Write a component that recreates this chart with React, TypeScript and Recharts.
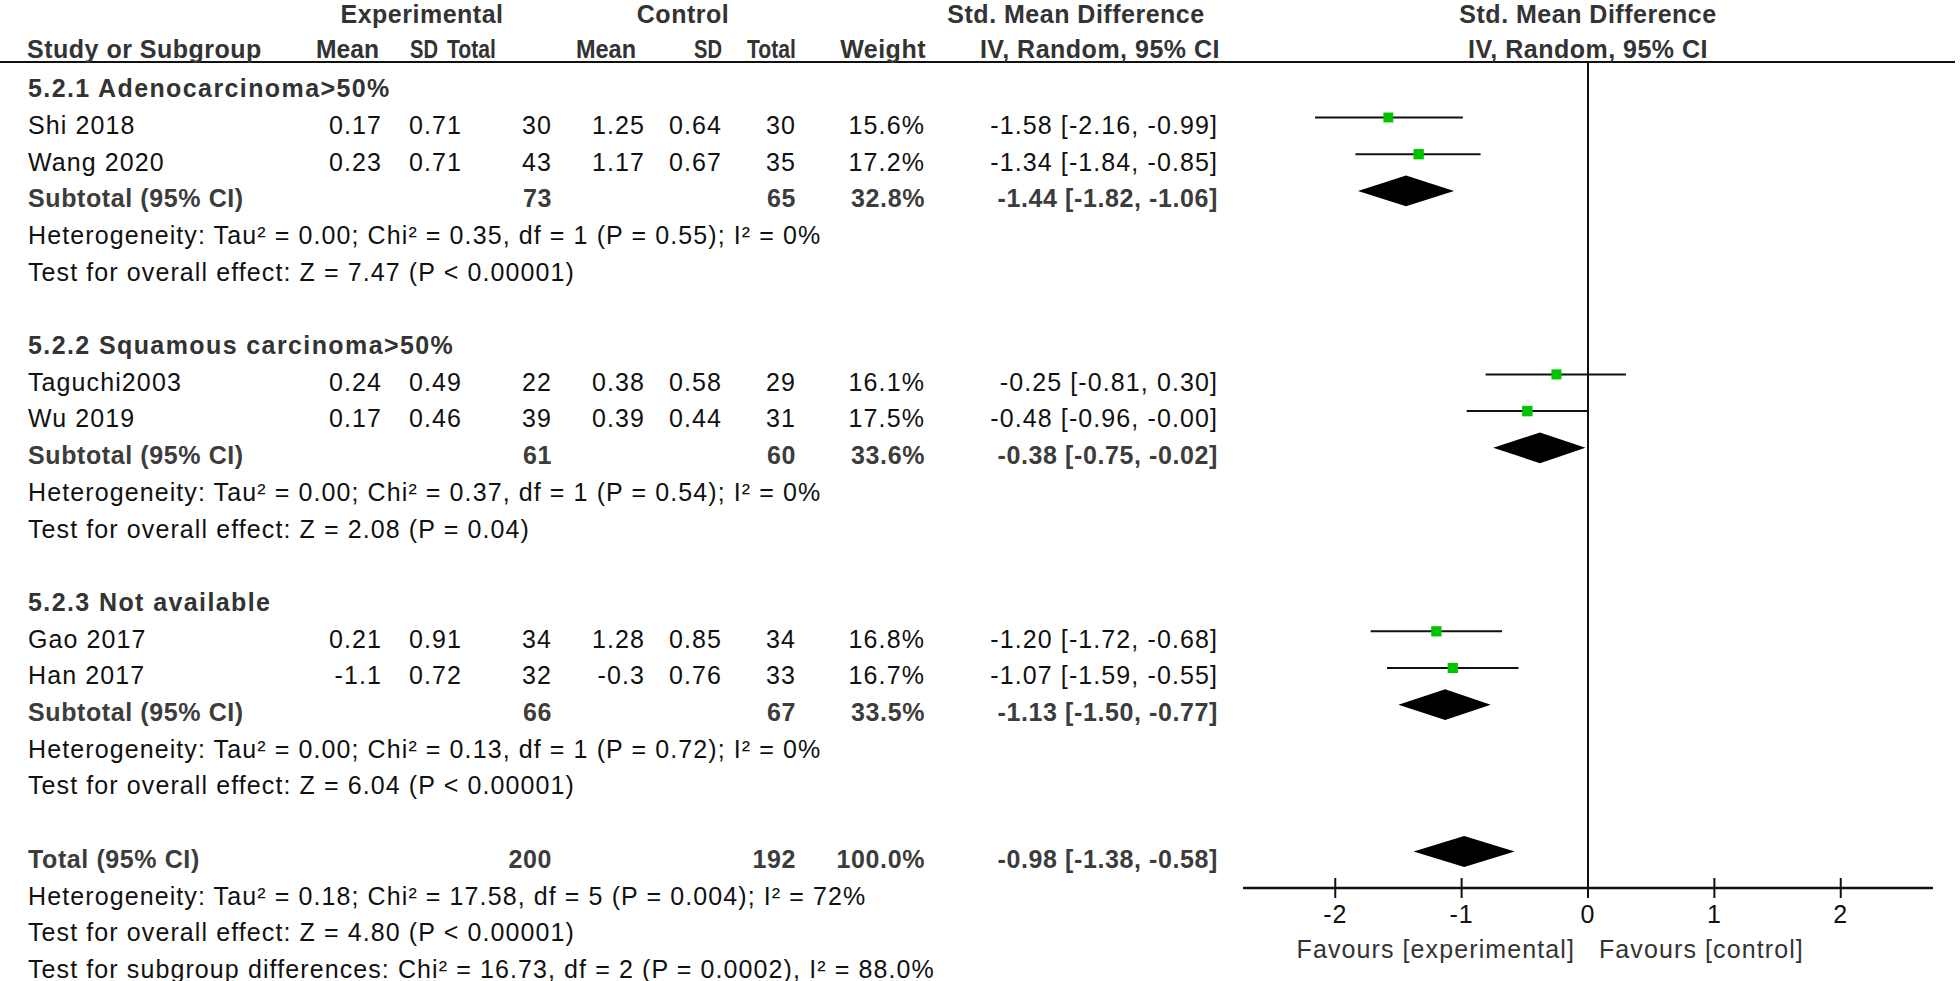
import React from "react";
import {
  Area,
  ComposedChart,
  ErrorBar,
  ReferenceLine,
  Scatter,
  XAxis,
  YAxis,
} from "recharts";

// study level data
const studyNames = ["Shi 2018", "Wang 2020", "Taguchi2003", "Wu 2019", "Gao 2017", "Han 2017"];
const expMean = ["0.17", "0.23", "0.24", "0.17", "0.21", "-1.1"];
const expSD = ["0.71", "0.71", "0.49", "0.46", "0.91", "0.72"];
const expTotal = [30, 43, 22, 39, 34, 32];
const ctrlMean = ["1.25", "1.17", "0.38", "0.39", "1.28", "-0.3"];
const ctrlSD = ["0.64", "0.67", "0.58", "0.44", "0.85", "0.76"];
const ctrlTotal = [30, 35, 29, 31, 34, 33];
const weights = [15.6, 17.2, 16.1, 17.5, 16.8, 16.7];
const smd = [-1.58, -1.34, -0.25, -0.48, -1.2, -1.07];
const lower = [-2.16, -1.84, -0.81, -0.96, -1.72, -1.59];
const upper = [-0.99, -0.85, 0.3, -0.004, -0.68, -0.55];
const studyRows = [1, 2, 8, 9, 15, 16];

// subgroups
const groupNames = ["5.2.1 Adenocarcinoma>50%", "5.2.2 Squamous carcinoma>50%", "5.2.3 Not available"];
const groupRows = [0, 7, 14];
const groupExpTotal = [73, 61, 66];
const groupCtrlTotal = [65, 60, 67];
const groupWeight = [32.8, 33.6, 33.5];
const groupSmd = [-1.44, -0.38, -1.13];
const groupLower = [-1.82, -0.75, -1.5];
const groupUpper = [-1.06, -0.02, -0.77];
const groupHet = [
  "Heterogeneity: Tau² = 0.00; Chi² = 0.35, df = 1 (P = 0.55); I² = 0%",
  "Heterogeneity: Tau² = 0.00; Chi² = 0.37, df = 1 (P = 0.54); I² = 0%",
  "Heterogeneity: Tau² = 0.00; Chi² = 0.13, df = 1 (P = 0.72); I² = 0%",
];
const groupTest = [
  "Test for overall effect: Z = 7.47 (P < 0.00001)",
  "Test for overall effect: Z = 2.08 (P = 0.04)",
  "Test for overall effect: Z = 6.04 (P < 0.00001)",
];

// overall
const totalRow = 21;
const totalExp = 200;
const totalCtrl = 192;
const totalWeight = 100.0;
const totalSmd = -0.98;
const totalLower = -1.38;
const totalUpper = -0.58;
const totalNotes = [
  "Heterogeneity: Tau² = 0.18; Chi² = 17.58, df = 5 (P = 0.004); I² = 72%",
  "Test for overall effect: Z = 4.80 (P < 0.00001)",
  "Test for subgroup differences: Chi² = 16.73, df = 2 (P = 0.0002), I² = 88.0%",
];

const xTicks = [-2, -1, 0, 1, 2];

// layout
const W = 1960;
const H = 981;
const PLOT_TOP = 62;
const PLOT_BOTTOM = 888;
const PLOT_LEFT = 1243;
const PLOT_RIGHT = 1933;
const ROW_H = 36.7;
const ROW0 = 80.8;
const Y_DOMAIN: [number, number] = [(PLOT_TOP - ROW0) / ROW_H, (PLOT_BOTTOM - ROW0) / ROW_H];
const X_DOMAIN: [number, number] = [-2.73, 2.73];
const DIAMOND_H = 0.42;
const AXIS_H = 60;

const rowBase = (r: number) => ROW0 + r * ROW_H + 16.3;
const f2 = (v: number) => v.toFixed(2);
const ciText = (e: number, l: number, u: number) => `${f2(e)} [${f2(l)}, ${f2(u)}]`;

const studyPoints = studyNames.map((n, i) => ({
  name: n,
  x: smd[i],
  row: studyRows[i],
  w: weights[i],
  err: [smd[i] - lower[i], upper[i] - smd[i]],
}));

const diamond = (est: number, lo: number, hi: number, r: number) => [
  { x: lo, band: [r, r] },
  { x: est, band: [r - DIAMOND_H, r + DIAMOND_H] },
  { x: hi, band: [r, r] },
];

const diamonds = [
  ...groupSmd.map((e, g) => diamond(e, groupLower[g], groupUpper[g], groupRows[g] + 3)),
  diamond(totalSmd, totalLower, totalUpper, totalRow),
];

const FONT = "'Liberation Sans', Arial, sans-serif";
const COL = {
  name: 28,
  expMean: 382,
  expSD: 462,
  expTotal: 552,
  ctrlMean: 645,
  ctrlSD: 722,
  ctrlTotal: 796,
  weight: 925,
  ci: 1218,
};

const Square = (props: any) => {
  const { cx, cy, payload } = props;
  const s = 2.5 * Math.sqrt(payload.w);
  return <rect x={cx - s / 2} y={cy - s / 2} width={s} height={s} fill="#00c400" />;
};

const Tick = (props: any) => {
  const { x, y, payload } = props;
  return (
    <g>
      <line x1={x} x2={x} y1={y - 22} y2={y - 12} stroke="#111" strokeWidth={2} />
      <text x={x} y={y + 23} textAnchor="middle" fontSize={25} fontFamily={FONT} fill="#111" letterSpacing={1}>
        {payload.value}
      </text>
    </g>
  );
};

function Table() {
  const reg = { fontSize: 25, fontFamily: FONT, fill: "#111", letterSpacing: 1.1 } as const;
  const bold = { fontSize: 25, fontFamily: FONT, fill: "#3c3c3c", fontWeight: 700, letterSpacing: 0.6 } as const;
  const head = { fontSize: 25, fontFamily: FONT, fill: "#333", fontWeight: 700, letterSpacing: 0.5 } as const;
  const grp = { ...head, letterSpacing: 1.4 };
  const end = (x: number, y: number, t: any, st: any, k: string, len?: number) => (
    <text
      key={k}
      x={x}
      y={y}
      textAnchor="end"
      {...st}
      {...(len ? { textLength: len, lengthAdjust: "spacingAndGlyphs", letterSpacing: 0 } : {})}
    >
      {t}
    </text>
  );
  const start = (x: number, y: number, t: any, st: any, k: string) => (
    <text key={k} x={x} y={y} {...st}>
      {t}
    </text>
  );
  const out: any[] = [];

  // headers
  out.push(<text key="h-exp" x={422} y={23} textAnchor="middle" {...head}>Experimental</text>);
  out.push(<text key="h-ctl" x={683} y={23} textAnchor="middle" {...head}>Control</text>);
  out.push(<text key="h-smd" x={1076} y={23} textAnchor="middle" {...head}>Std. Mean Difference</text>);
  out.push(<text key="h-smd2" x={1588} y={23} textAnchor="middle" {...head}>Std. Mean Difference</text>);
  out.push(start(27, 58, "Study or Subgroup", head, "h2-0"));
  out.push(end(379, 58, "Mean", head, "h2-1", 63));
  out.push(end(438, 58, "SD", head, "h2-2", 28));
  out.push(end(496, 58, "Total", head, "h2-3", 49));
  out.push(end(636, 58, "Mean", head, "h2-4", 60));
  out.push(end(722, 58, "SD", head, "h2-5", 28));
  out.push(end(796, 58, "Total", head, "h2-6", 49));
  out.push(end(926, 58, "Weight", head, "h2-7"));
  out.push(end(1220, 58, "IV, Random, 95% CI", head, "h2-8"));
  out.push(<text key="h2-9" x={1588} y={58} textAnchor="middle" {...head}>IV, Random, 95% CI</text>);

  groupNames.forEach((g, gi) => {
    const r0 = groupRows[gi];
    out.push(start(COL.name, rowBase(r0), g, grp, `g${gi}`));
    const sub = r0 + 3;
    out.push(start(COL.name, rowBase(sub), "Subtotal (95% CI)", bold, `s${gi}-n`));
    out.push(end(COL.expTotal, rowBase(sub), groupExpTotal[gi], bold, `s${gi}-e`));
    out.push(end(COL.ctrlTotal, rowBase(sub), groupCtrlTotal[gi], bold, `s${gi}-c`));
    out.push(end(COL.weight, rowBase(sub), `${groupWeight[gi].toFixed(1)}%`, bold, `s${gi}-w`));
    out.push(end(COL.ci, rowBase(sub), ciText(groupSmd[gi], groupLower[gi], groupUpper[gi]), bold, `s${gi}-ci`));
    out.push(start(COL.name, rowBase(sub + 1), groupHet[gi], reg, `s${gi}-h`));
    out.push(start(COL.name, rowBase(sub + 2), groupTest[gi], reg, `s${gi}-t`));
  });

  studyNames.forEach((n, i) => {
    const y = rowBase(studyRows[i]);
    out.push(start(COL.name, y, n, reg, `r${i}-n`));
    out.push(end(COL.expMean, y, expMean[i], reg, `r${i}-1`));
    out.push(end(COL.expSD, y, expSD[i], reg, `r${i}-2`));
    out.push(end(COL.expTotal, y, expTotal[i], reg, `r${i}-3`));
    out.push(end(COL.ctrlMean, y, ctrlMean[i], reg, `r${i}-4`));
    out.push(end(COL.ctrlSD, y, ctrlSD[i], reg, `r${i}-5`));
    out.push(end(COL.ctrlTotal, y, ctrlTotal[i], reg, `r${i}-6`));
    out.push(end(COL.weight, y, `${weights[i].toFixed(1)}%`, reg, `r${i}-7`));
    out.push(end(COL.ci, y, ciText(smd[i], lower[i], upper[i]), reg, `r${i}-8`));
  });

  const ty = rowBase(totalRow);
  out.push(start(COL.name, ty, "Total (95% CI)", bold, "t-n"));
  out.push(end(COL.expTotal, ty, totalExp, bold, "t-e"));
  out.push(end(COL.ctrlTotal, ty, totalCtrl, bold, "t-c"));
  out.push(end(COL.weight, ty, `${totalWeight.toFixed(1)}%`, bold, "t-w"));
  out.push(end(COL.ci, ty, ciText(totalSmd, totalLower, totalUpper), bold, "t-ci"));
  totalNotes.forEach((t, k) => out.push(start(COL.name, rowBase(totalRow + 1 + k), t, reg, `tn${k}`)));

  // favours labels
  out.push(end(1575, 958, "Favours [experimental]", { ...reg, fill: "#333" }, "fav1"));
  out.push(start(1599, 958, "Favours [control]", { ...reg, fill: "#333" }, "fav2"));

  return (
    <svg width={W} height={H} style={{ position: "absolute", left: 0, top: 0, pointerEvents: "none" }}>
      <line x1={0} x2={1955} y1={PLOT_TOP} y2={PLOT_TOP} stroke="#111" strokeWidth={2} />
      {out}
    </svg>
  );
}

export default function App() {
  return (
    <div style={{ position: "relative", width: W, height: H, background: "#fff" }}>
      <style>{"body{margin:0;background:#fff}"}</style>
      <ComposedChart
        width={W}
        height={H}
        margin={{ top: PLOT_TOP, bottom: H - PLOT_BOTTOM - AXIS_H, left: PLOT_LEFT, right: W - PLOT_RIGHT }}
        style={{ position: "absolute", left: 0, top: 0 }}
      >
        <XAxis
          type="number"
          dataKey="x"
          domain={X_DOMAIN}
          ticks={xTicks}
          allowDataOverflow
          height={AXIS_H}
          axisLine={{ stroke: "#111", strokeWidth: 2.5 }}
          tickLine={{ stroke: "#111", strokeWidth: 2 }}
          tickSize={10}
          tickMargin={2}
          tick={<Tick />}
        />
        <YAxis type="number" domain={Y_DOMAIN} reversed hide allowDataOverflow />
        <ReferenceLine x={0} stroke="#111" strokeWidth={2} />
        {diamonds.map((d, i) => (
          <Area
            key={i}
            data={d}
            dataKey="band"
            type="linear"
            stroke="none"
            fill="#000"
            fillOpacity={1}
            dot={false}
            activeDot={false}
            isAnimationActive={false}
          />
        ))}
        <Scatter data={studyPoints} dataKey="row" shape={<Square />} isAnimationActive={false}>
          <ErrorBar dataKey="err" direction="x" width={0} stroke="#111" strokeWidth={2} />
        </Scatter>
      </ComposedChart>
      <Table />
    </div>
  );
}
